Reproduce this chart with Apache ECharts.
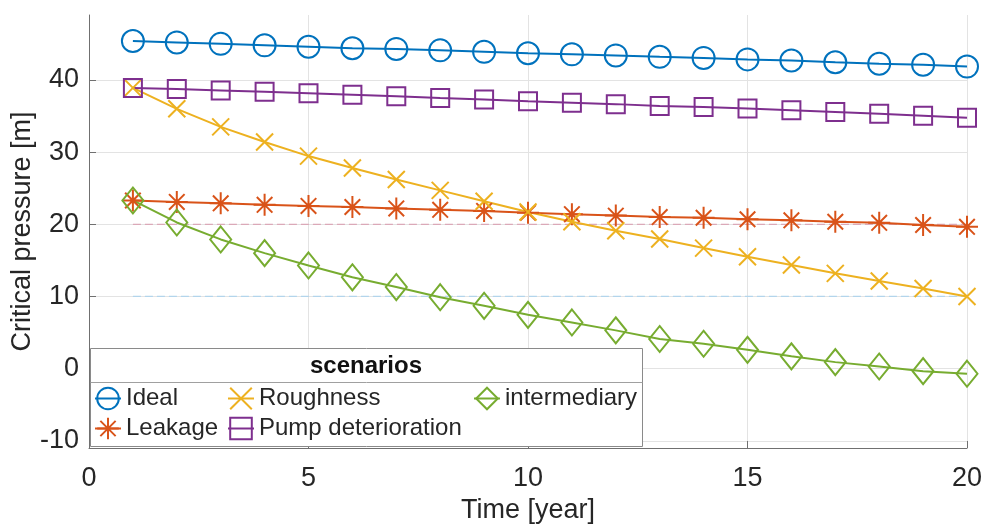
<!DOCTYPE html>
<html>
<head>
<meta charset="utf-8">
<script src="https://cdn.jsdelivr.net/npm/echarts@6/dist/echarts.min.js"></script>
<style>
html,body{margin:0;padding:0;background:#fff;}
#main{width:984px;height:525px;}
</style>
</head>
<body>
<div id="main"></div>
<script>
const years = [1,2,3,4,5,6,7,8,9,10,11,12,13,14,15,16,17,18,19,20];
const ideal = [45.4,45.2,45.0,44.8,44.6,44.4,44.3,44.1,43.9,43.7,43.55,43.4,43.2,43.05,42.85,42.7,42.45,42.25,42.1,41.85];
const leakage = [23.3,23.1,22.9,22.7,22.55,22.4,22.2,22.0,21.85,21.6,21.4,21.2,21.0,20.9,20.7,20.55,20.35,20.2,19.9,19.65];
const roughness = [38.9,36.0,33.5,31.4,29.45,27.8,26.2,24.7,23.2,21.7,20.35,19.1,17.95,16.7,15.5,14.35,13.2,12.15,11.1,10.0];
const pump = [38.9,38.75,38.55,38.35,38.15,37.95,37.75,37.5,37.3,37.05,36.85,36.65,36.4,36.25,36.05,35.8,35.55,35.3,35.05,34.75];
const intermediary = [23.3,20.25,17.9,16.0,14.3,12.65,11.3,9.9,8.7,7.45,6.4,5.3,4.1,3.45,2.6,1.7,0.9,0.3,-0.35,-0.7];
const thresholdUpper = [20, 20];
const thresholdLower = [10, 10];
const thresholdYears = [1, 20];
const yTicks = [-10, 0, 10, 20, 30, 40];
const seriesNames = ['Ideal', 'Leakage', 'Roughness', 'Pump deterioration', 'intermediary'];

const FONT = '"Liberation Sans", Arial, Helvetica, sans-serif';
const TXT = '#262626';
const AX = '#707070';

function pairs(xs, ys) { return xs.map((x, i) => [x, ys[i]]); }

function mkLine(name, values, color, symbol, size) {
  return {
    name: name, type: 'line', data: pairs(years, values),
    symbol: symbol, symbolSize: size, showAllSymbol: true,
    lineStyle: {color: color, width: 2},
    itemStyle: {color: 'rgba(255,255,255,0)', borderColor: color, borderWidth: 2},
    emphasis: {disabled: true}, z: 3
  };
}

const chart = echarts.init(document.getElementById('main'));
const legendBase = {
  orient: 'horizontal', padding: 0, itemWidth: 26, itemHeight: 27, itemGap: 0,
  selectedMode: false, z: 101,
  textStyle: {fontSize: 24, color: TXT, fontFamily: FONT}
};
chart.setOption({
  animation: false,
  backgroundColor: '#fff',
  grid: {left: 89, right: 17, top: 15, bottom: 77, containLabel: false, outerBoundsMode: 'none'},
  xAxis: {
    type: 'value', min: 0, max: 20, interval: 5,
    name: 'Time [year]', nameLocation: 'middle', nameGap: 49,
    nameTextStyle: {fontSize: 27, color: TXT, fontFamily: FONT},
    axisLine: {show: true, onZero: false, lineStyle: {color: AX, width: 1}},
    axisTick: {show: true, inside: true, length: 7, lineStyle: {color: AX}},
    axisLabel: {fontSize: 27, color: TXT, fontFamily: FONT, margin: 17},
    splitLine: {show: true, lineStyle: {color: '#e3e3e3', width: 1}}
  },
  yAxis: {
    type: 'value', min: -11, max: 49, splitNumber: 6,
    name: 'Critical pressure [m]', nameLocation: 'middle', nameGap: 53, nameMoveOverlap: false,
    nameTextStyle: {fontSize: 27, color: TXT, fontFamily: FONT},
    axisLine: {show: true, onZero: false, lineStyle: {color: AX, width: 1}},
    axisTick: {show: true, inside: true, length: 7, lineStyle: {color: AX}, customValues: yTicks},
    axisLabel: {fontSize: 27, color: TXT, fontFamily: FONT, margin: 10, customValues: yTicks},
    splitLine: {show: true, lineStyle: {color: '#e3e3e3', width: 1}}
  },
  legend: [
    Object.assign({}, legendBase, {data: ['Ideal'], left: 94, top: 386.5}),
    Object.assign({}, legendBase, {data: ['Roughness'], left: 227, top: 386.5}),
    Object.assign({}, legendBase, {data: ['intermediary'], left: 473, top: 386.5}),
    Object.assign({}, legendBase, {data: ['Leakage'], left: 94, top: 416.5}),
    Object.assign({}, legendBase, {data: ['Pump deterioration'], left: 227, top: 416.5})
  ],
  graphic: [
    {type: 'rect', z: 100, shape: {x: 90.5, y: 348.5, width: 552, height: 98},
     style: {fill: '#fff', stroke: '#8a8a8a', lineWidth: 1}},
    {type: 'line', z: 100, shape: {x1: 90.5, y1: 382.5, x2: 642.5, y2: 382.5},
     style: {stroke: '#a0a0a0', lineWidth: 1}},
    {type: 'text', z: 101, x: 366, y: 366,
     style: {text: 'scenarios', fontSize: 24, fontWeight: 'bold', fontFamily: FONT, fill: '#111',
             textAlign: 'center', textVerticalAlign: 'middle'}}
  ],
  series: [
    {type: 'line', data: pairs(thresholdYears, thresholdUpper), symbol: 'none', silent: true,
     lineStyle: {color: '#dba9b8', width: 1.2, type: [8, 4]}, z: 2},
    {type: 'line', data: pairs(thresholdYears, thresholdLower), symbol: 'none', silent: true,
     lineStyle: {color: '#b3d5ec', width: 1.2, type: [8, 4]}, z: 2},
    mkLine(seriesNames[0], ideal, '#0072BD', 'circle', 22),
    mkLine(seriesNames[1], leakage, '#D95319', 'path://M5 0L5 10M0 5L10 5M1.46 1.46L8.54 8.54M8.54 1.46L1.46 8.54', 22),
    mkLine(seriesNames[2], roughness, '#EDB120', 'path://M0 0L10 10M10 0L0 10', 17),
    mkLine(seriesNames[3], pump, '#7E2F8E', 'rect', 18),
    mkLine(seriesNames[4], intermediary, '#77AC30', 'diamond', [21, 26])
  ]
});
</script>
</body>
</html>
